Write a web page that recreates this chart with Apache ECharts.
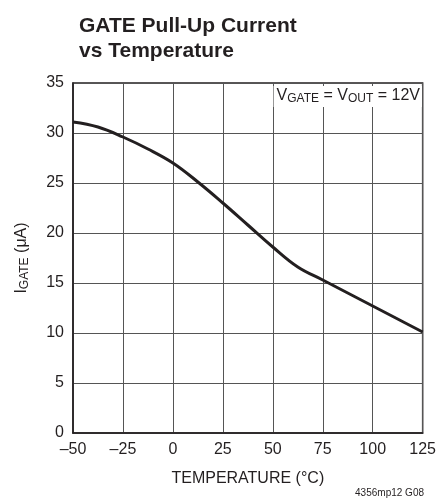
<!DOCTYPE html>
<html>
<head>
<meta charset="utf-8">
<script src="https://cdn.jsdelivr.net/npm/echarts@6/dist/echarts.min.js"></script>
<style>
html,body{margin:0;padding:0;background:#fff;}
#c{width:439px;height:502px;}
</style>
</head>
<body>
<div id="c"></div>
<script>
const temperatures = [-50, -37.5, -25, -12.5, 0, 12.5, 25, 37.5, 50, 62.5, 75, 87.5, 100, 112.5, 125];
const gateCurrent = [31.1, 30.6, 29.6, 28.4, 27.0, 25.1, 23.0, 20.8, 18.6, 16.6, 15.3, 14.0, 12.7, 11.4, 10.1];
const xTicks = [-50, -25, 0, 25, 50, 75, 100, 125];
const yTicks = [0, 5, 10, 15, 20, 25, 30, 35];

const FONT = "'Liberation Sans', Arial, sans-serif";
const INK = '#231f20';

const chart = echarts.init(document.getElementById('c'));
chart.setOption({
  animation: false,
  backgroundColor: '#fff',
  title: {
    text: 'GATE Pull-Up Current\nvs Temperature',
    left: 74, top: 9,
    textStyle: {fontFamily: FONT, fontWeight: 'bold', fontSize: 21, lineHeight: 25, color: INK}
  },
  grid: {left: 73, top: 83, width: 351, height: 350, show: true, borderColor: INK, borderWidth: 1.5, backgroundColor: 'transparent'},
  xAxis: {
    type: 'value', min: xTicks[0], max: xTicks[xTicks.length - 1], interval: 25,
    axisLine: {show: true, onZero: false, lineStyle: {color: INK, width: 1.5}},
    axisTick: {show: false},
    splitLine: {show: true, lineStyle: {color: '#555', width: 1}},
    axisLabel: {fontFamily: FONT, fontSize: 16, color: INK, margin: 9,
      formatter: v => String(v).replace('-', '\u2013')},
    name: 'TEMPERATURE (°C)', nameLocation: 'middle', nameGap: 38,
    nameTextStyle: {fontFamily: FONT, fontSize: 16, color: INK}
  },
  yAxis: {
    type: 'value', min: yTicks[0], max: yTicks[yTicks.length - 1], interval: 5,
    axisLine: {show: true, onZero: false, lineStyle: {color: INK, width: 1.5}},
    axisTick: {show: false},
    splitLine: {show: true, lineStyle: {color: '#555', width: 1}},
    axisLabel: {fontFamily: FONT, fontSize: 16, color: INK, margin: 9},
    name: '{m|I}{s|GATE}{m| (μA)}', nameLocation: 'middle', nameGap: 42, nameRotate: 90,
    nameTextStyle: {fontFamily: FONT, fontSize: 16, color: INK,
      rich: {
        m: {fontFamily: FONT, fontSize: 16, color: INK},
        s: {fontFamily: FONT, fontSize: 12, color: INK, verticalAlign: 'bottom', padding: [6, 0, 0, 0]}
      }}
  },
  graphic: [
    {
      type: 'text', right: 17, top: 86, z: 100,
      style: {
        text: '{m|V}{s|GATE}{m| = V}{s|OUT}{m| = 12V}',
        backgroundColor: '#fff', padding: [1, 2, 2, 3],
        rich: {
          m: {fontFamily: FONT, fontSize: 16, fill: INK, color: INK},
          s: {fontFamily: FONT, fontSize: 12, fill: INK, color: INK, verticalAlign: 'bottom', padding: [6, 0, 0, 0]}
        }
      }
    },
    {
      type: 'text', right: 15, top: 488,
      style: {text: '4356mp12 G08', fontFamily: FONT, fontSize: 10, fill: INK}
    }
  ],
  series: [{
    type: 'line', data: temperatures.map((t, i) => [t, gateCurrent[i]]),
    smooth: 0.4, showSymbol: false, symbol: 'none',
    lineStyle: {color: INK, width: 3}
  }]
});
</script>
</body>
</html>
